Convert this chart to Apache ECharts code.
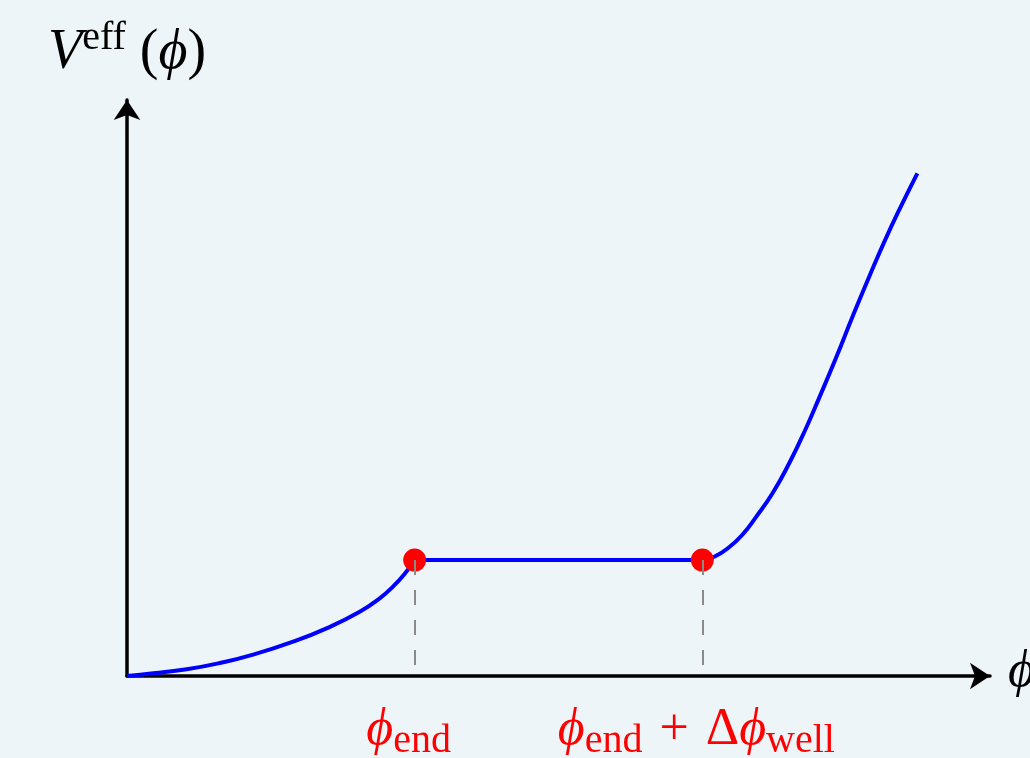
<!DOCTYPE html>
<html><head><meta charset="utf-8">
<script src="https://cdn.jsdelivr.net/npm/echarts@6/dist/echarts.min.js"></script>
<style>html,body{margin:0;padding:0;background:#eef5f8}#c{width:1030px;height:758px}</style>
</head><body><div id="c"></div>
<script>
// ---- data ----
const leftCurveX  = [0, 0.183, 0.415, 0.646, 0.877, 1.155, 1.387, 1.618, 1.757, 1.849, 1.942, 2];
const leftCurveY  = [0, 0.023, 0.058, 0.112, 0.184, 0.296, 0.411, 0.554, 0.670, 0.770, 0.899, 1];
const plateauX    = [2, 4];
const plateauY    = [1, 1];
const rightCurveX = [4, 4.083, 4.188, 4.280, 4.373, 4.488, 4.604, 4.720, 4.813, 4.929, 5.044, 5.160, 5.276, 5.391, 5.495];
const rightCurveY = [1, 1.028, 1.112, 1.220, 1.370, 1.575, 1.834, 2.134, 2.400, 2.741, 3.097, 3.442, 3.773, 4.075, 4.334];
const markerX = [2, 4];
const markerY = [1, 1];
const dashBottomY = 0.08;
const tickValues = [2, 4];
const tickLabels = ['ϕ_end', 'ϕ_end + Δϕ_well'];
const xName = 'ϕ';
const yName = 'V^eff (ϕ)';

// ---- helpers ----
const zip = (xs, ys) => xs.map((x, i) => [x, ys[i]]);
function toRich(str) {
  let out = '', i = 0;
  while (i < str.length) {
    const c = str[i];
    if (c === '_' || c === '^') {
      let j = i + 1;
      while (j < str.length && /[a-z]/.test(str[j])) j++;
      out += '{' + (c === '_' ? 'sub' : 'sup') + '|' + str.slice(i + 1, j) + '}';
      i = j;
    } else if ('ϕV'.includes(c)) {
      out += '{it|' + c + '}'; i++;
    } else if (c === '+') {
      out += '{op|+}'; i++;
    } else {
      let j = i;
      while (j < str.length && !'_^ϕV+'.includes(str[j])) j++;
      out += '{up|' + str.slice(i, j) + '}';
      i = j;
    }
  }
  return out;
}
function richStyles(color, big, small, lh, subPad, supPad) {
  const f = 'Liberation Serif';
  return {
    up:  {fontFamily: f, fontSize: big, lineHeight: lh, color},
    op:  {fontFamily: f, fontSize: big, lineHeight: lh, padding: [0, 4, 0, 4], color},
    it:  {fontFamily: f, fontSize: big, lineHeight: lh, fontStyle: 'italic', color},
    sub: {fontFamily: f, fontSize: small, lineHeight: lh - subPad, padding: [subPad, 0, 0, 0], color},
    sup: {fontFamily: f, fontSize: small, lineHeight: lh - supPad, padding: [0, 0, supPad, 0], color}
  };
}
const axisLineStyle = {color: '#000', width: 3.5};
const curveStyle = {color: '#0000ff', width: 4};

const chart = echarts.init(document.getElementById('c'), null, {renderer: 'canvas'});
chart.setOption({
  animation: false,
  backgroundColor: '#eef5f8',
  grid: {left: 127, right: 40, top: 100, bottom: 82, containLabel: false, outerBoundsMode: 'none'},
  xAxis: {
    type: 'value', min: 0, max: 6,
    axisLine: {show: true, onZero: false, symbol: ['none', 'arrow'], symbolSize: [20, 20], symbolOffset: [0, 0], lineStyle: axisLineStyle},
    axisTick: {show: false},
    splitLine: {show: false},
    axisLabel: {
      customValues: tickValues,
      margin: 24,
      padding: [0, 12, 0, 0],
      formatter: v => { const k = tickValues.indexOf(v); return k < 0 ? '' : toRich(tickLabels[k]); },
      rich: richStyles('#ff0000', 52, 40, 60, 23, 30)
    },
    name: toRich(xName), nameLocation: 'end', nameGap: 18,
    nameTextStyle: {rich: richStyles('#000', 52, 40, 60, 23, 30), padding: [0, 0, 8, 0]}
  },
  yAxis: {
    type: 'value', min: 0, max: 4.966,
    axisLine: {show: true, onZero: false, symbol: ['none', 'arrow'], symbolSize: [20, 20], symbolOffset: [0, 0], lineStyle: axisLineStyle},
    axisTick: {show: false},
    splitLine: {show: false},
    axisLabel: {show: false},
    name: toRich(yName), nameLocation: 'end', nameGap: 15,
    nameTextStyle: {rich: richStyles('#000', 56, 40, 64, 23, 30), align: 'center'}
  },
  series: [
    {type: 'line', data: zip(leftCurveX, leftCurveY), smooth: 0.5, showSymbol: false, lineStyle: curveStyle, z: 2, silent: true},
    {type: 'line', data: zip(plateauX, plateauY), showSymbol: false, lineStyle: curveStyle, z: 2, silent: true},
    {type: 'line', data: zip(rightCurveX, rightCurveY), smooth: 0.5, showSymbol: false, lineStyle: curveStyle, z: 2, silent: true},
    {type: 'scatter', data: zip(markerX, markerY), symbolSize: 23, itemStyle: {color: '#ff0000', opacity: 1}, z: 3, silent: true},
    {type: 'line', data: [], z: 4, silent: true,
      markLine: {silent: true, symbol: ['none', 'none'], label: {show: false}, animation: false,
        lineStyle: {color: '#8a8a8a', width: 2, type: [15, 15]},
        data: markerX.map((x, i) => [{coord: [x, markerY[i]]}, {coord: [x, dashBottomY]}])}
    }
  ]
});
</script>
</body></html>
